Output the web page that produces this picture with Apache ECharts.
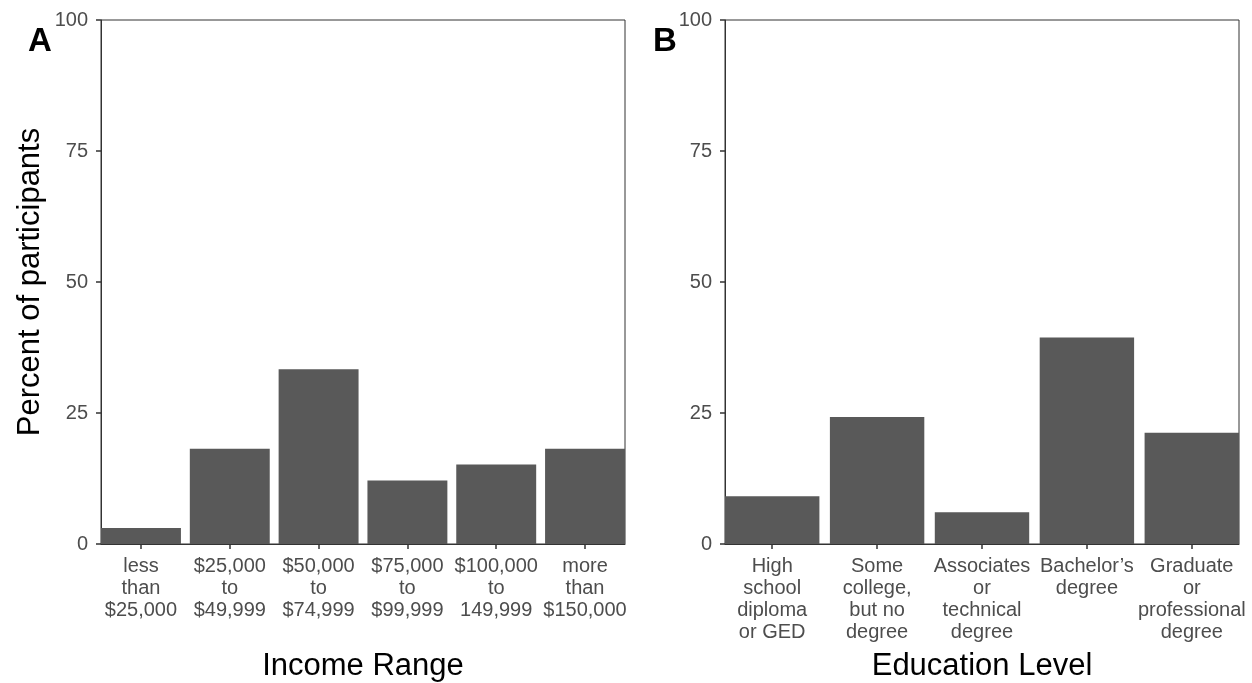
<!DOCTYPE html>
<html>
<head>
<meta charset="utf-8">
<script src="https://cdn.jsdelivr.net/npm/echarts@6/dist/echarts.min.js"></script>
<style>
  html, body { margin: 0; padding: 0; background: #fff; }
  #chart { width: 1252px; height: 683px; }
</style>
</head>
<body>
<div id="chart"></div>
<script>
const incomeLabels = [
  'less\nthan\n$25,000',
  '$25,000\nto\n$49,999',
  '$50,000\nto\n$74,999',
  '$75,000\nto\n$99,999',
  '$100,000\nto\n149,999',
  'more\nthan\n$150,000'
]
const incomePercent = [3.03, 18.18, 33.33, 12.12, 15.15, 18.18]

const educationLabels = [
  'High\nschool\ndiploma\nor GED',
  'Some\ncollege,\nbut no\ndegree',
  'Associates\nor\ntechnical\ndegree',
  'Bachelor’s\ndegree',
  'Graduate\nor\nprofessional\ndegree'
]
const educationPercent = [9.09, 24.24, 6.06, 39.39, 21.21]

const yTicks = [0, 25, 50, 75, 100]

const FONT = 'Liberation Sans, Arial, sans-serif'
const DARK = '#333333'
const TICKTEXT = '#4d4d4d'

const positions = (arr) => arr.map((_, i) => i + 1)

const makeXAxis = (gridIndex, labels, title) => ({
  type: 'value',
  gridIndex: gridIndex,
  min: 0.55,
  max: labels.length + 0.45,
  name: title,
  nameLocation: 'middle',
  nameGap: 107,
  nameTextStyle: { fontFamily: FONT, fontSize: 31, color: '#000' },
  axisLine: { show: true, lineStyle: { color: DARK, width: 1 } },
  axisTick: {
    show: true,
    length: 5,
    customValues: positions(labels),
    lineStyle: { color: DARK, width: 1.5 }
  },
  axisLabel: {
    show: true,
    customValues: positions(labels),
    formatter: (v) => labels[Math.round(v) - 1] || '',
    fontFamily: FONT,
    fontSize: 20,
    lineHeight: 22,
    color: TICKTEXT,
    margin: 11,
    align: 'center'
  },
  splitLine: { show: false }
})

const makeYAxis = (gridIndex, title) => ({
  type: 'value',
  gridIndex: gridIndex,
  min: 0,
  max: 100,
  interval: 25,
  name: title,
  nameLocation: 'middle',
  nameGap: 55,
  nameRotate: 90,
  nameTextStyle: { fontFamily: FONT, fontSize: 31, color: '#000' },
  axisLine: { show: true, lineStyle: { color: DARK, width: 1 } },
  axisTick: { show: true, length: 5, lineStyle: { color: DARK, width: 1.5 } },
  axisLabel: {
    fontFamily: FONT,
    fontSize: 20,
    color: TICKTEXT,
    margin: 13,
    formatter: (v) => (yTicks.includes(v) ? String(v) : '')
  },
  splitLine: { show: false }
})

const chart = echarts.init(document.getElementById('chart'))

const option = {
  animation: false,
  backgroundColor: '#ffffff',
  title: [
    {
      text: 'A',
      left: 23,
      top: 20,
      textStyle: { fontFamily: FONT, fontSize: 33, fontWeight: 'bold', color: '#000' }
    },
    {
      text: 'B',
      left: 648,
      top: 20,
      textStyle: { fontFamily: FONT, fontSize: 33, fontWeight: 'bold', color: '#000' }
    }
  ],
  grid: [
    { left: 101, right: 627, top: 20, bottom: 139, outerBoundsMode: 'none', show: true, borderColor: DARK, borderWidth: 1, backgroundColor: 'transparent' },
    { left: 725, right: 13, top: 20, bottom: 139, outerBoundsMode: 'none', show: true, borderColor: DARK, borderWidth: 1, backgroundColor: 'transparent' }
  ],
  xAxis: [
    makeXAxis(0, incomeLabels, 'Income Range'),
    makeXAxis(1, educationLabels, 'Education Level')
  ],
  yAxis: [
    makeYAxis(0, 'Percent of participants'),
    makeYAxis(1, '')
  ],
  series: [
    {
      type: 'bar',
      xAxisIndex: 0,
      yAxisIndex: 0,
      barWidth: '90%',
      itemStyle: { color: '#595959' },
      data: incomePercent.map((v, i) => [i + 1, v])
    },
    {
      type: 'bar',
      xAxisIndex: 1,
      yAxisIndex: 1,
      barWidth: '90%',
      itemStyle: { color: '#595959' },
      data: educationPercent.map((v, i) => [i + 1, v])
    }
  ]
}

chart.setOption(option)
</script>
</body>
</html>
